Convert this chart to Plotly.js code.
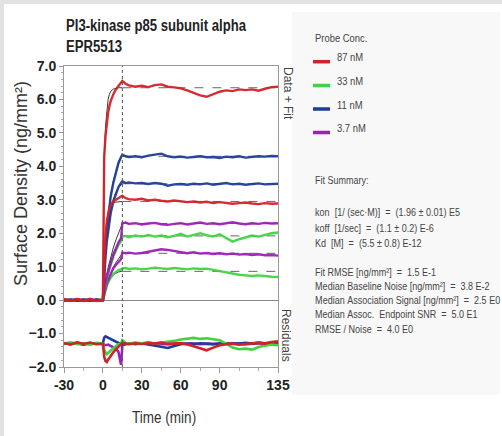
<!DOCTYPE html>
<html><head><meta charset="utf-8">
<script src="https://cdn.plot.ly/plotly-3.0.1.min.js"></script>
<style>html,body{margin:0;padding:0;background:#fff}</style>
</head><body>
<div id="chart" style="width:502px;height:436px"></div>
<script>
// ---- data ----
const time = [-30,-25,-20,-15,-10,-5,0,0.5,1,2,3,4,5,6,8,10,12,14,15,17.5,20,25,30,35,40,45,50,55,60,65,70,75,80,85,90,95,100,105,110,115,120,125,130,135];

const red87a = [0.04,-0.03,0.03,-0.02,0.04,-0.03,0.0, 3.2,4.3,4.9,5.3,5.6,5.8,5.95,6.15,6.3,6.4,6.48,6.55,
  6.47,6.42,6.38,6.41,6.37,6.43,6.45,6.38,6.36,6.33,6.27,6.2,6.12,6.08,6.16,6.23,6.27,6.25,6.3,6.28,6.3,6.26,6.32,6.37,6.38];
const red87b = [0.02,-0.02,0.03,-0.03,0.02,-0.02,0, 0.6,1.2,1.9,2.35,2.6,2.75,2.85,2.95,3.0,3.05,3.1,3.12,
  3.05,3.02,3.0,3.03,2.98,3.0,2.97,2.95,2.98,2.96,2.93,2.95,2.92,2.94,2.9,2.93,2.91,2.88,2.9,2.92,2.89,2.87,2.9,2.88,2.89];
const blue11a = [-0.01,0.02,-0.02,0.01,-0.02,0.02,0, 0.5,0.9,1.6,2.1,2.5,2.85,3.1,3.5,3.85,4.1,4.28,4.35,
  4.3,4.28,4.3,4.27,4.32,4.34,4.38,4.3,4.27,4.29,4.26,4.28,4.3,4.27,4.28,4.25,4.29,4.27,4.3,4.26,4.28,4.3,4.29,4.31,4.3];
const blue11b = [0.01,-0.02,0.02,-0.01,0.02,-0.02,0, 0.4,0.7,1.3,1.75,2.1,2.4,2.6,2.95,3.2,3.38,3.5,3.55,
  3.5,3.52,3.49,3.5,3.47,3.5,3.48,3.42,3.46,3.47,3.45,3.48,3.46,3.49,3.45,3.47,3.5,3.46,3.48,3.45,3.47,3.49,3.46,3.48,3.48];
const purple37a = [0.02,-0.01,0.01,-0.02,0.01,-0.01,0, 0.15,0.3,0.5,0.7,0.85,1.0,1.1,1.35,1.55,1.72,1.85,2.3,
  2.32,2.28,2.3,2.26,2.29,2.31,2.27,2.25,2.28,2.3,2.26,2.29,2.32,2.28,2.3,2.27,2.31,2.33,2.29,2.27,2.3,2.28,2.31,2.29,2.3];
const purple37b = [-0.01,0.01,-0.02,0.02,-0.01,0.01,0, 0.1,0.2,0.35,0.5,0.6,0.7,0.78,0.95,1.05,1.15,1.22,1.42,
  1.4,1.42,1.39,1.41,1.44,1.48,1.52,1.5,1.46,1.42,1.4,1.43,1.39,1.41,1.38,1.4,1.37,1.39,1.36,1.38,1.35,1.37,1.34,1.35,1.33];
const green33a = [0.01,-0.02,0.02,-0.01,0.01,-0.02,0, 0.12,0.25,0.45,0.65,0.8,0.95,1.05,1.3,1.5,1.65,1.75,1.9,
  1.92,1.88,1.93,1.9,1.95,1.9,1.93,1.88,1.92,1.98,1.9,1.96,2.0,1.94,1.9,1.97,1.85,1.75,1.82,1.88,1.93,1.9,1.96,2.0,2.02];
const green33b = [-0.02,0.01,-0.01,0.02,-0.02,0.01,0, 0.08,0.15,0.3,0.42,0.52,0.6,0.67,0.78,0.85,0.9,0.92,0.95,
  0.96,0.93,0.95,0.92,0.94,0.97,0.95,0.93,0.96,0.94,0.92,0.95,0.93,0.94,0.9,0.87,0.83,0.78,0.76,0.74,0.72,0.74,0.71,0.7,0.69];

// residuals (as plotted, offset band)
const residRed = [-1.28,-1.33,-1.26,-1.31,-1.27,-1.32,-1.3, -1.55,-1.7,-1.82,-1.85,-1.78,-1.72,-1.66,-1.56,-1.47,-1.4,-1.33,-1.28,
  -1.3,-1.32,-1.29,-1.31,-1.28,-1.3,-1.27,-1.31,-1.3,-1.29,-1.32,-1.38,-1.45,-1.5,-1.42,-1.35,-1.32,-1.3,-1.33,-1.31,-1.3,-1.28,-1.3,-1.25,-1.23];
const residGreen = [-1.3,-1.27,-1.32,-1.29,-1.33,-1.28,-1.3, -1.4,-1.48,-1.56,-1.62,-1.58,-1.54,-1.5,-1.43,-1.37,-1.32,-1.3,-1.2,
  -1.28,-1.3,-1.27,-1.29,-1.26,-1.3,-1.28,-1.25,-1.22,-1.18,-1.15,-1.13,-1.16,-1.14,-1.17,-1.2,-1.3,-1.42,-1.47,-1.45,-1.48,-1.4,-1.36,-1.33,-1.35];
const residBlue = [-1.31,-1.28,-1.3,-1.33,-1.29,-1.3,-1.3, -1.2,-1.12,-1.08,-1.1,-1.12,-1.15,-1.18,-1.22,-1.26,-1.28,-1.3,-1.32,
  -1.3,-1.29,-1.31,-1.3,-1.33,-1.36,-1.4,-1.43,-1.37,-1.32,-1.3,-1.31,-1.29,-1.3,-1.32,-1.3,-1.31,-1.29,-1.3,-1.28,-1.3,-1.27,-1.29,-1.28,-1.26];
const residPurple = [-1.29,-1.31,-1.28,-1.3,-1.32,-1.29,-1.3, -1.32,-1.34,-1.35,-1.34,-1.33,-1.35,-1.36,-1.4,-1.45,-1.55,-1.93,-1.35,
  -1.32,-1.3,-1.31,-1.29,-1.3,-1.31,-1.3,-1.32,-1.3,-1.29,-1.31,-1.3,-1.32,-1.3,-1.31,-1.3,-1.29,-1.31,-1.3,-1.32,-1.3,-1.29,-1.31,-1.3,-1.3];

// global fit
const fitTime = [0,1,2,3,4,5,6,8,10,12,14,15];
const fitRed87a = [0,4.2,5.2,5.7,6.0,6.15,6.24,6.31,6.34,6.35,6.35,6.35];
const fitRed87b = [0,1.3,2.0,2.4,2.62,2.75,2.83,2.9,2.93,2.94,2.95,2.95];
const fitBlue11a = [0,0.95,1.65,2.15,2.55,2.9,3.15,3.55,3.88,4.12,4.27,4.3];
const fitBlue11b = [0,0.75,1.35,1.8,2.15,2.42,2.65,2.98,3.22,3.37,3.46,3.48];
const fitPurple37a = [0,0.3,0.55,0.78,0.97,1.14,1.3,1.56,1.8,2.0,2.18,2.29];
const fitPurple37b = [0,0.18,0.34,0.48,0.6,0.71,0.81,0.98,1.12,1.24,1.35,1.4];
const fitGreen33a = [0,0.28,0.5,0.7,0.88,1.04,1.17,1.4,1.58,1.73,1.86,1.92];
const fitGreen33b = [0,0.16,0.3,0.42,0.52,0.6,0.67,0.76,0.81,0.84,0.86,0.86];
const dissocTime = [15,135];
const fitLevels = [6.35,2.95,4.3,3.48,2.29,1.4,1.92,0.86];
const assocEnd = 15;

const xTickVals = [-30,0,30,60,90,135];
const legendLabels = ['87 nM','33 nM','11 nM','3.7 nM'];
const summaryLines = [
  'kon  [1/ (sec·M)]  =  (1.96 ± 0.01) E5',
  'koff  [1/sec]  =  (1.1 ± 0.2) E-6',
  'Kd  [M]  =  (5.5 ± 0.8) E-12',
  '',
  'Fit RMSE [ng/mm²]  =  1.5 E-1',
  'Median Baseline Noise [ng/mm²]  =  3.8 E-2',
  'Median Association Signal [ng/mm²]  =  2.5 E0',
  'Median Assoc.  Endpoint SNR  =  5.0 E1',
  'RMSE / Noise  =  4.0 E0'
];

// ---- styling ----
const C = {red:'#d12227', green:'#3fd43f', blue:'#1f3c98', purple:'#9c1fb6'};
const legendColors = [C.red, C.green, C.blue, C.purple];
const SANS = '"Liberation Sans", Arial, sans-serif';
const SX = 0.82;   // horizontal condensing of the narrow texts
const L=64, R=278, T=66, B=367;
const px = x => (x-L)/(R-L);
const py = y => (B-y)/(B-T);
const nb = s => s.replace(/ /g,'\u00a0');

const traces = [];
[fitRed87a,fitRed87b,fitBlue11a,fitBlue11b,fitPurple37a,fitPurple37b,fitGreen33a,fitGreen33b].forEach(f=>{
  traces.push({x:fitTime, y:f, mode:'lines', line:{color:'#3a3a3a', width:1}, hoverinfo:'skip', showlegend:false});
});
const dx=[], dy=[];
fitLevels.forEach(v=>{ dx.push(dissocTime[0],dissocTime[1],null); dy.push(v,v,null); });
traces.push({x:dx, y:dy, mode:'lines', line:{color:'#666', width:1, dash:'dash'}, hoverinfo:'skip', showlegend:false});

const series = [
  [green33b,C.green],[purple37b,C.purple],[green33a,C.green],[purple37a,C.purple],
  [blue11b,C.blue],[blue11a,C.blue],[red87b,C.red],[red87a,C.red]
];
series.forEach(([y,c])=>traces.push({x:time, y:y, mode:'lines', line:{color:c, width:2.4}, opacity:0.95, showlegend:false}));
[[residPurple,C.purple],[residBlue,C.blue],[residGreen,C.green],[residRed,C.red]].forEach(([y,c])=>
  traces.push({x:time, y:y, mode:'lines', line:{color:c, width:2.6}, showlegend:false}));

const shapes = [
  {type:'rect', xref:'paper', yref:'paper', x0:px(0), x1:px(502), y0:py(0), y1:py(4), fillcolor:'#e2e2e2', line:{width:0}, layer:'below'},
  {type:'rect', xref:'paper', yref:'paper', x0:px(0), x1:px(4), y0:py(0), y1:py(436), fillcolor:'#e2e2e2', line:{width:0}, layer:'below'},
  {type:'rect', xref:'paper', yref:'paper', x0:px(292), x1:px(500), y0:py(395), y1:py(12), fillcolor:'#f8f8f8', line:{width:0}, layer:'below'},
  {type:'line', xref:'x', yref:'paper', x0:assocEnd, x1:assocEnd, y0:0, y1:1, line:{color:'#555', width:1, dash:'dot'}}
];
const legendY = [61.7, 85.5, 109, 132.5];
legendColors.forEach((c,i)=>shapes.push({type:'line', xref:'paper', yref:'paper', x0:px(313), x1:px(330), y0:py(legendY[i]), y1:py(legendY[i]), line:{color:c, width:3.5}}));

const ann = [];
const narrowIdx = [];
function addAnn(a, narrow){ if(narrow) narrowIdx.push(ann.length); ann.push(a); }
addAnn({text:'Probe Conc.', x:px(313), y:py(38), xanchor:'left', yanchor:'middle', font:{family:SANS, size:11.5, color:'#444'}}, true);
legendLabels.forEach((t,i)=>addAnn({text:t, x:px(335), y:py(legendY[i]-4.5), xanchor:'left', yanchor:'middle', font:{family:SANS, size:11.5, color:'#444'}}, true));
addAnn({text:'Fit Summary:', x:px(313), y:py(180), xanchor:'left', yanchor:'middle', font:{family:SANS, size:11, color:'#444'}}, true);
const sumY = [212, 228, 243, null, 271.5, 286, 300, 314, 328.5];
summaryLines.forEach((t,i)=>{ if(t) addAnn({text:nb(t), x:px(313), y:py(sumY[i]), xanchor:'left', yanchor:'middle', font:{family:SANS, size:11, color:'#444'}}, true); });
addAnn({text:'Data + Fit', x:px(288), y:py(93), textangle:90, xanchor:'center', yanchor:'middle', font:{family:SANS, size:12, color:'#444'}}, false);
addAnn({text:'Residuals', x:px(286), y:py(335), textangle:90, xanchor:'center', yanchor:'middle', font:{family:SANS, size:12, color:'#444'}}, false);
addAnn({text:'Surface Density (ng/mm²)', x:px(21), y:py(184), textangle:-90, xanchor:'center', yanchor:'middle', font:{family:SANS, size:18, color:'#333'}}, false);
addAnn({text:'Time (min)', x:px(164), y:py(416.5), xanchor:'center', yanchor:'middle', font:{family:SANS, size:16.5, color:'#333'}}, true);
ann.forEach(a=>{a.xref='paper'; a.yref='paper'; a.showarrow=false;});

const layout = {
  width:502, height:436,
  margin:{l:L, r:502-R, t:T, b:436-B, pad:0},
  paper_bgcolor:'#fff', plot_bgcolor:'#fff',
  title:{text:'PI3-kinase p85 subunit alpha<br>EPR5513', xref:'container', yref:'container', x:66/502, xanchor:'left', y:1-31/436, yanchor:'middle',
    font:{family:SANS, size:16, weight:'bold', color:'#222'}},
  showlegend:false,
  xaxis:{range:[-30,135], tickmode:'array', tickvals:xTickVals, ticktext:xTickVals.map(String),
    showgrid:false, zeroline:false, showline:true, mirror:true, linecolor:'#999', linewidth:1,
    ticks:'outside', ticklen:5, tickcolor:'#999',
    minor:{tickmode:'linear', tick0:0, dtick:15, ticks:'outside', ticklen:3, tickcolor:'#aaa'},
    tickfont:{family:SANS, size:14, weight:'bold', color:'#222'}},
  yaxis:{range:[-2,7], dtick:1, tickformat:'.1f',
    showgrid:false, zeroline:true, zerolinecolor:'#888', zerolinewidth:1, showline:true, mirror:true, linecolor:'#999', linewidth:1,
    ticks:'outside', ticklen:4, tickcolor:'#999',
    minor:{dtick:0.2, ticks:'outside', ticklen:2, tickcolor:'#aaa'},
    tickfont:{family:SANS, size:14, weight:'bold', color:'#222'}},
  shapes:shapes, annotations:ann
};

function condense(el, origin){
  el.style.transformBox = 'fill-box';
  el.style.transformOrigin = origin;
  el.style.transform = 'scaleX(' + SX + ')';
}
Plotly.newPlot('chart', traces, layout, {staticPlot:true, displayModeBar:false}).then(gd=>{
  narrowIdx.forEach(i=>{
    const t = gd.querySelector('.annotation[data-index="'+i+'"] text');
    if(t) condense(t, ann[i].xanchor==='left' ? 'left center' : 'center center');
  });
  gd.querySelectorAll('.gtitle').forEach(t=>condense(t, 'left center'));
});
</script>
</body></html>
